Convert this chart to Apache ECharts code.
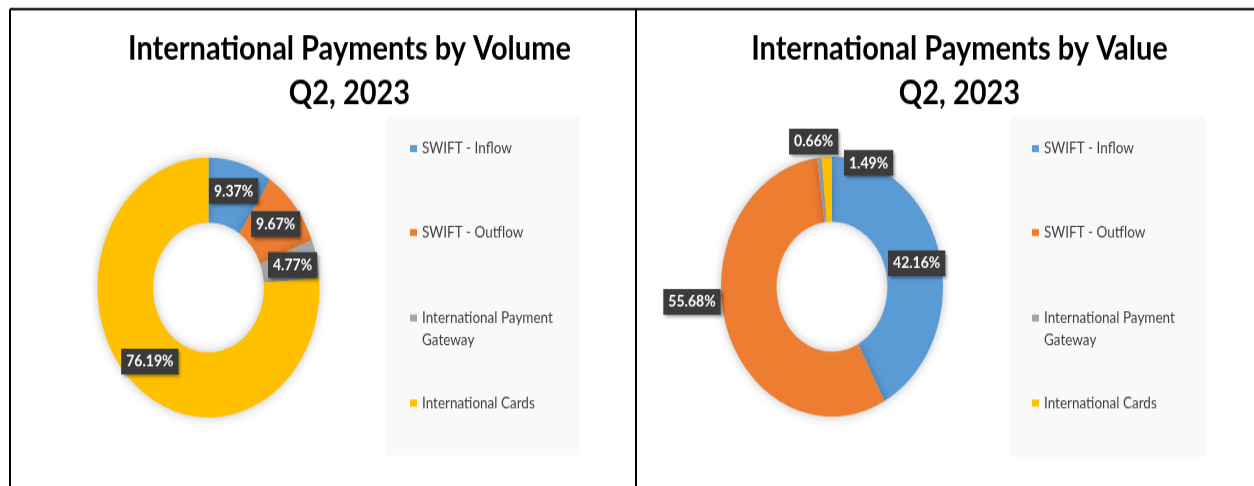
<!DOCTYPE html>
<html><head><meta charset="utf-8">
<script src="https://cdn.jsdelivr.net/npm/echarts@6/dist/echarts.min.js"></script>
<style>
html,body{margin:0;padding:0;background:#fff;overflow:hidden;width:1254px;height:486px}
#main{width:1254px;height:415.4px;transform:scaleY(1.17);transform-origin:0 0}
</style></head><body><div id="main"></div>
<script>
// ---- data ----
const categories = ['SWIFT - Inflow', 'SWIFT - Outflow', 'International Payment Gateway', 'International Cards'];
const volumeShares = [9.37, 9.67, 4.77, 76.19];
const valueShares = [42.16, 55.68, 0.66, 1.49];
const chartTitles = ['International Payments by Volume', 'International Payments by Value'];
const periodLabel = 'Q2, 2023';

// ---- style / layout ----
const colors = ['#5B9BD5', '#ED7D31', '#A5A5A5', '#FFC000'];
const S = 1.17;               // vertical stretch of the picture
const Y = v => v / S;         // reference-pixel y -> chart y
const FONT = 'Lato, "Open Sans", sans-serif';
const panels = [
  { cx: 208.5, cy: 287.5, title: 349.5, legendX: 410, box: [387, 116, 580, 455],
    offsets: [[0,0],[0,0],[0,0],[0,0]], guide: -1 },
  { cx: 832, cy: 286.7, title: 959.5, legendX: 1032, box: [1011, 116, 1205, 457],
    offsets: [[1,1],[-58,-16],[-8.5,-45],[0,0]], guide: 3 }
];
const legendRowsRef = [148.5, 232.5, 318, 403];
const LH = 19;
const legendText = name => name === 'International Payment Gateway' ? '\nInternational Payment\nGateway' : name;
const legendLines = name => name === 'International Payment Gateway' ? 3 : 1;

const chart = echarts.init(document.getElementById('main'));
const series = [volumeShares, valueShares].map((vals, ci) => {
  const p = panels[ci];
  return {
    type: 'pie',
    name: chartTitles[ci],
    center: [p.cx, Y(p.cy)],
    radius: [55.5, 111],
    startAngle: 90,
    clockwise: true,
    avoidLabelOverlap: false,
    silent: true,
    itemStyle: { borderWidth: 0, shadowBlur: 10, shadowColor: 'rgba(0,0,0,0.25)' },
    label: {
      show: true, position: 'outside',
      formatter: d => d.value.toFixed(2) + '%',
      color: '#fff', fontFamily: FONT, fontWeight: 'bold', fontSize: 14, lineHeight: 16,
      backgroundColor: '#3b3b3b', padding: [3, 5, 3, 5],
      shadowColor: 'rgba(0,0,0,0.45)', shadowBlur: 3, shadowOffsetX: 2, shadowOffsetY: 2
    },
    labelLine: { show: false },
    labelLayout: prm => {
      if (prm.dataIndex === p.guide) {
        const r = prm.rect;
        const x0 = r.x + r.width * 0.6, y0 = r.y + r.height * 0.5;
        const x1 = r.x + r.width + 2, y1 = r.y + 4.3;
        const x2 = r.x + r.width + 12;
        return { x: x2, y: y1 + 0.8, align: 'left', verticalAlign: 'middle',
                 labelLinePoints: [[x0, y0], [x1, y1], [x2, y1]] };
      }
      const o = p.offsets[prm.dataIndex];
      return { dx: o[0], dy: Y(o[1]) };
    },
    data: categories.map((c, i) => {
      const d = { name: c, value: vals[i], itemStyle: { color: colors[i] } };
      if (i === p.guide) {
        d.labelLine = { show: true, showAbove: true, lineStyle: { color: '#595959', width: 1 } };
      } else {
        d.label = { position: 'inside' };
      }
      return d;
    })
  };
});

const legends = [];
panels.forEach(p => {
  categories.forEach((c, i) => {
    const n = legendLines(c);
    legends.push({
      left: p.legendX, top: Y(legendRowsRef[i]) - n * LH / 2, padding: 0,
      orient: 'vertical', icon: 'rect', itemWidth: 7, itemHeight: 6,
      itemStyle: { shadowBlur: 0, borderWidth: 0 },
      selectedMode: false,
      data: [c], formatter: legendText,
      textStyle: { fontFamily: FONT, fontSize: 13.5, lineHeight: LH, color: '#404040' }
    });
  });
});

const graphic = [];
panels.forEach(p => {
  const b = p.box;
  graphic.push({ type: 'rect', z: -10, silent: true,
    shape: { x: b[0], y: Y(b[1]), width: b[2] - b[0], height: Y(b[3]) - Y(b[1]) },
    style: { fill: '#f9f9f9' } });
});
[[10, 9, 1254, 9], [10, 9, 10, 486], [636, 9, 636, 486]].forEach(l => {
  graphic.push({ type: 'line', silent: true,
    shape: { x1: l[0], y1: Y(l[1]), x2: l[2], y2: Y(l[3]) },
    style: { stroke: '#000', lineWidth: 2 } });
});

chart.setOption({
  animation: false,
  backgroundColor: '#fff',
  title: panels.map((p, ci) => ({
    text: chartTitles[ci] + '\n' + periodLabel,
    left: p.title, top: Y(49) - Y(44) / 2, padding: 0, textAlign: 'center',
    textStyle: { fontFamily: FONT, fontWeight: 'bold', fontSize: 29, lineHeight: Y(44), color: '#000' }
  })),
  legend: legends,
  graphic: graphic,
  series: series
});
</script></body></html>
